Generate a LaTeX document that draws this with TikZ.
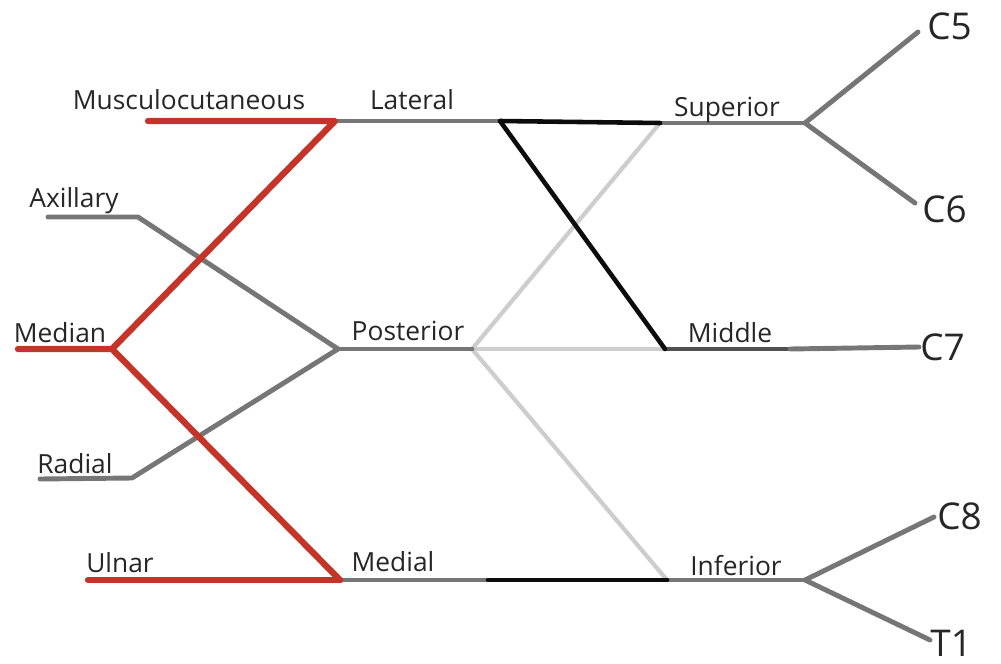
\documentclass[tikz,border=0pt]{standalone}
\usepackage{fontspec}
\setmainfont{Open Sans}
\definecolor{nred}{RGB}{196,52,40}
\definecolor{ngray}{RGB}{118,118,118}
\definecolor{ndark}{RGB}{80,80,80}
\definecolor{nlight}{RGB}{205,205,205}
\definecolor{nblack}{RGB}{12,12,12}
\tikzset{
  redline/.style={draw=nred,line width=3.6pt,line cap=round,line join=round},
  grayline/.style={draw=ngray,line width=2.8pt,line cap=round,line join=round},
  darkline/.style={draw=ndark,line width=2.8pt,line cap=round,line join=round},
  lightline/.style={draw=nlight,line width=2.4pt,line cap=round,line join=round},
  blackline/.style={draw=nblack,line width=2.6pt,line cap=round,line join=round},
  lbl/.style={inner sep=0pt,anchor=base,font=\fontsize{15}{17}\selectfont,text=black!85},
  root/.style={inner sep=0pt,anchor=base west,font=\fontsize{21}{24}\selectfont,text=black!85}
}
\begin{document}
\begin{tikzpicture}[x=0.02cm,y=-0.02cm]
\useasboundingbox (0,0) rectangle (1001,663);
% junction coordinates
\coordinate (musc) at (148,121);
\coordinate (lat) at (335,121);
\coordinate (latb) at (500,121);
\coordinate (sup) at (660,123);
\coordinate (supj) at (805,123);
\coordinate (c5) at (918,32);
\coordinate (c6) at (915,203);
\coordinate (axl) at (48,217);
\coordinate (axk) at (138,217);
\coordinate (medn) at (18,349);
\coordinate (mednj) at (112,349);
\coordinate (post) at (338,349);
\coordinate (postb) at (472,349);
\coordinate (mid) at (665,349);
\coordinate (midb) at (790,349);
\coordinate (c7) at (919,347);
\coordinate (radl) at (40,479);
\coordinate (radk) at (132,478);
\coordinate (uln) at (88,580);
\coordinate (medl) at (340,580);
\coordinate (medb) at (488,580);
\coordinate (inf) at (667,580);
\coordinate (infj) at (805,580);
\coordinate (c8) at (934,517);
\coordinate (t1) at (930,640);
% light gray (posterior divisions)
\draw[lightline] (postb) -- (sup);
\draw[lightline] (postb) -- (mid);
\draw[lightline] (postb) -- (inf);
% gray trunks and cords
\draw[grayline] (lat) -- (latb);
\draw[grayline] (sup) -- (supj);
\draw[grayline] (supj) -- (c5);
\draw[grayline] (supj) -- (c6);
\draw[darkline] (mid) -- (midb);
\draw[grayline] (midb) -- (c7);
\draw[grayline] (inf) -- (infj);
\draw[grayline] (infj) -- (c8);
\draw[grayline] (infj) -- (t1);
\draw[grayline] (axl) -- (axk) -- (post);
\draw[grayline] (radl) -- (radk) -- (post);
\draw[grayline] (post) -- (postb);
\draw[grayline] (medl) -- (medb);
% black (anterior divisions)
\draw[blackline] (latb) -- (sup);
\draw[blackline] (latb) -- (mid);
\draw[blackline] (medb) -- (inf);
% red nerves
\draw[redline] (musc) -- (lat) -- (mednj);
\draw[redline] (medn) -- (mednj) -- (medl);
\draw[redline] (uln) -- (medl);
% labels
\node[lbl] (tmusc) at (189,109) {Musculocutaneous};
\node[lbl] (tlat) at (412,109) {Lateral};
\node[lbl] (tax) at (74,207) {Axillary};
\node[lbl] (tmed) at (60,342) {Median};
\node[lbl] (tpost) at (408,340) {Posterior};
\node[lbl] (trad) at (75,473) {Radial};
\node[lbl] (tuln) at (120,572) {Ulnar};
\node[lbl] (tmedl) at (393,571) {Medial};
\node[lbl] (tsup) at (727,116) {Superior};
\node[lbl] (tmid) at (730,342) {Middle};
\node[lbl] (tinf) at (736,575) {Inferior};
\node[root] (tc5) at (927,39) {C5};
\node[root] (tc6) at (922,222) {C6};
\node[root] (tc7) at (920,360) {C7};
\node[root] (tc8) at (937,529) {C8};
\node[root] (tt1) at (930,656) {T1};
\end{tikzpicture}
\end{document}
